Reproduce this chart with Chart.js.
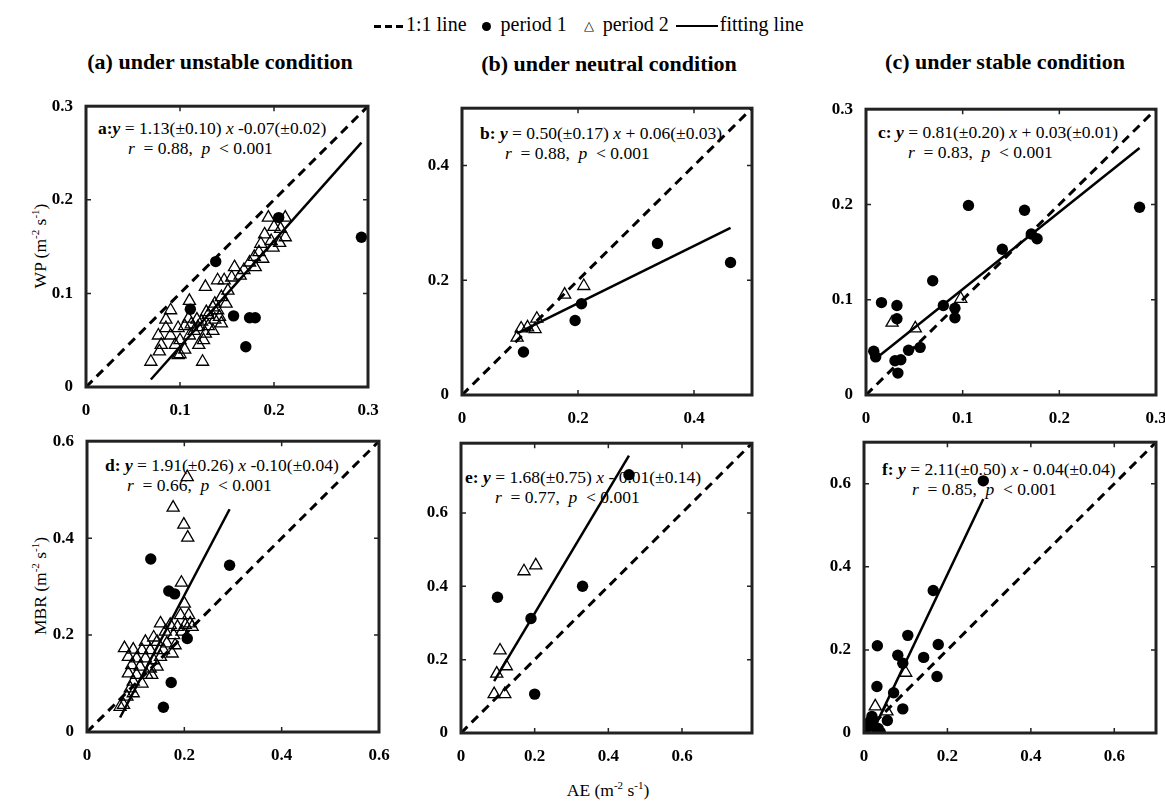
<!DOCTYPE html>
<html lang="en">

<head>
    <meta charset="UTF-8">
    <title>WP and MBR against AE</title>
    <script src="https://cdn.jsdelivr.net/npm/chart.js"></script>
    <style>
        body {
            margin: 0;
            width: 1165px;
            height: 803px;
            position: relative;
            overflow: hidden;
            background: #fff;
            color: #000;
            font-family: "Liberation Serif", "Times New Roman", serif;
        }

        canvas {
            position: absolute;
            z-index: 2;
        }

        .title {
            position: absolute;
            font-size: 22px;
            font-weight: bold;
            white-space: nowrap;
            transform: translate(-50%, -50%);
        }

        .eq {
            position: absolute;
            z-index: 1;
            font-size: 17.5px;
            line-height: 20px;
            white-space: nowrap;
        }

        .axis-title {
            position: absolute;
            font-size: 17.5px;
            white-space: nowrap;
            transform: translate(-50%, -50%);
        }

        .axis-title.rot {
            transform: translate(-50%, -50%) rotate(-90deg);
        }

        sup {
            font-size: 11px;
            vertical-align: 7px;
            line-height: 0;
        }

        /* legend row */
        #legend {
            position: absolute;
            left: 374px;
            top: 12px;
            font-size: 20px;
            line-height: 24px;
            white-space: nowrap;
        }

        #legend span {
            display: inline-block;
            vertical-align: middle;
        }

        .lg-dash {
            width: 30px;
            height: 3px;
            background: repeating-linear-gradient(90deg, #000 0 7px, transparent 7px 11px);
            margin-right: 2px;
        }

        .lg-dot {
            width: 9px;
            height: 9px;
            border-radius: 50%;
            background: #000;
            margin: 0 10px 0 10px;
        }

        .lg-tri {
            font-size: 13px;
            margin: 0 9px 0 12px;
        }

        .lg-line {
            width: 42px;
            height: 2px;
            background: #000;
            margin: 0 2px 0 2px;
        }
    </style>
</head>

<body>
    <div id="legend">
        <span class="lg-dash"></span>1:1 line
        <span class="lg-dot"></span>period 1
        <span class="lg-tri">△</span>period 2
        <span class="lg-line"></span>fitting line
    </div>

    <div class="title" style="left:220px; top:62px">(a) under unstable condition</div>
    <div class="title" style="left:609px; top:64px">(b) under neutral condition</div>
    <div class="title" style="left:1005px; top:62px">(c) under stable condition</div>

    <div class="axis-title rot" style="left:40px; top:246px">WP (m<sup>-2</sup> s<sup>-1</sup>)</div>
    <div class="axis-title rot" style="left:40px; top:586px">MBR (m<sup>-2</sup> s<sup>-1</sup>)</div>
    <div class="axis-title" style="left:608px; top:790px">AE (m<sup>-2</sup> s<sup>-1</sup>)</div>

    <!-- regression text for each panel -->
    <div class="eq" style="left:98px; top:118px">
        <b>a:<i>y</i></b> = 1.13(±0.10) <i>x</i> -0.07(±0.02)<br>
        <span style="padding-left:30px"><i>r</i>&nbsp; = 0.88,&nbsp; <i>p</i>&nbsp; &lt; 0.001</span>
    </div>
    <div class="eq" style="left:480px; top:123px">
        <b>b: <i>y</i></b> = 0.50(±0.17) <i>x</i> + 0.06(±0.03)<br>
        <span style="padding-left:25px"><i>r</i>&nbsp; = 0.88,&nbsp; <i>p</i>&nbsp; &lt; 0.001</span>
    </div>
    <div class="eq" style="left:878px; top:122px">
        <b>c: <i>y</i></b> = 0.81(±0.20) <i>x</i> + 0.03(±0.01)<br>
        <span style="padding-left:30px"><i>r</i>&nbsp; = 0.83,&nbsp; <i>p</i>&nbsp; &lt; 0.001</span>
    </div>
    <div class="eq" style="left:105px; top:455px">
        <b>d: <i>y</i></b> = 1.91(±0.26) <i>x</i> -0.10(±0.04)<br>
        <span style="padding-left:22px"><i>r</i>&nbsp; = 0.66,&nbsp; <i>p</i>&nbsp; &lt; 0.001</span>
    </div>
    <div class="eq" style="left:465px; top:467px">
        <b>e: <i>y</i></b> = 1.68(±0.75) <i>x</i> - 0.01(±0.14)<br>
        <span style="padding-left:30px"><i>r</i>&nbsp; = 0.77,&nbsp; <i>p</i>&nbsp; &lt; 0.001</span>
    </div>
    <div class="eq" style="left:882px; top:459px">
        <b>f: <i>y</i></b> = 2.11(±0.50) <i>x</i> - 0.04(±0.04)<br>
        <span style="padding-left:30px"><i>r</i>&nbsp; = 0.85,&nbsp; <i>p</i>&nbsp; &lt; 0.001</span>
    </div>

    <script>
        // ---- data: [AE, WP or MBR] pairs ----
        const aPeriod1 = [[0.205, 0.181], [0.293, 0.160], [0.138, 0.134], [0.111, 0.083], [0.157, 0.076],
            [0.174, 0.074], [0.180, 0.074], [0.170, 0.043]];
        const aPeriod2 = [[0.194, 0.181], [0.212, 0.181], [0.200, 0.171], [0.207, 0.169], [0.212, 0.160],
            [0.190, 0.163], [0.197, 0.156], [0.206, 0.154], [0.186, 0.153], [0.199, 0.149], [0.184, 0.144],
            [0.179, 0.139], [0.188, 0.137], [0.174, 0.133], [0.180, 0.128], [0.158, 0.128], [0.168, 0.125],
            [0.164, 0.119], [0.147, 0.114], [0.155, 0.117], [0.127, 0.107], [0.151, 0.103], [0.144, 0.096],
            [0.137, 0.089], [0.149, 0.089], [0.110, 0.092], [0.140, 0.082], [0.130, 0.077], [0.137, 0.072],
            [0.144, 0.068], [0.090, 0.082], [0.085, 0.072], [0.109, 0.073], [0.098, 0.063], [0.085, 0.063],
            [0.077, 0.055], [0.119, 0.064], [0.127, 0.057], [0.069, 0.027], [0.098, 0.034], [0.124, 0.027],
            [0.095, 0.045], [0.100, 0.050], [0.105, 0.040], [0.110, 0.055], [0.115, 0.060], [0.120, 0.045],
            [0.125, 0.050], [0.130, 0.065], [0.135, 0.060], [0.100, 0.035], [0.090, 0.055], [0.080, 0.045],
            [0.078, 0.038], [0.112, 0.067], [0.118, 0.072], [0.123, 0.070], [0.105, 0.065], [0.128, 0.080],
            [0.135, 0.085], [0.142, 0.075], [0.140, 0.114]];

        const bPeriod1 = [[0.337, 0.264], [0.463, 0.231], [0.206, 0.159], [0.195, 0.130], [0.106, 0.075]];
        const bPeriod2 = [[0.210, 0.190], [0.177, 0.175], [0.129, 0.133], [0.126, 0.115], [0.113, 0.118],
            [0.102, 0.116], [0.095, 0.100]];

        const cPeriod1 = [[0.106, 0.199], [0.164, 0.194], [0.283, 0.197], [0.171, 0.169], [0.177, 0.164],
            [0.141, 0.153], [0.069, 0.120], [0.080, 0.094], [0.016, 0.097], [0.032, 0.094], [0.032, 0.080],
            [0.092, 0.091], [0.092, 0.081], [0.008, 0.046], [0.044, 0.047], [0.056, 0.050], [0.010, 0.040],
            [0.030, 0.036], [0.036, 0.037], [0.033, 0.023]];
        const cPeriod2 = [[0.027, 0.076], [0.051, 0.070], [0.098, 0.101]];

        const dPeriod1 = [[0.131, 0.357], [0.293, 0.344], [0.168, 0.291], [0.180, 0.285], [0.206, 0.193],
            [0.173, 0.102], [0.157, 0.051]];
        const dPeriod2 = [[0.206, 0.526], [0.177, 0.463], [0.199, 0.428], [0.207, 0.401], [0.194, 0.308],
            [0.200, 0.265], [0.192, 0.241], [0.209, 0.241], [0.212, 0.224], [0.202, 0.221], [0.186, 0.217],
            [0.171, 0.221], [0.151, 0.224], [0.161, 0.207], [0.178, 0.200], [0.195, 0.207], [0.216, 0.217],
            [0.137, 0.195], [0.120, 0.186], [0.144, 0.186], [0.164, 0.183], [0.181, 0.179], [0.077, 0.173],
            [0.095, 0.170], [0.113, 0.169], [0.130, 0.169], [0.157, 0.169], [0.175, 0.162], [0.085, 0.155],
            [0.102, 0.152], [0.120, 0.152], [0.137, 0.148], [0.151, 0.155], [0.092, 0.138], [0.109, 0.135],
            [0.130, 0.131], [0.144, 0.135], [0.085, 0.121], [0.102, 0.118], [0.123, 0.118], [0.133, 0.118],
            [0.095, 0.104], [0.113, 0.100], [0.089, 0.090], [0.082, 0.073], [0.075, 0.056], [0.068, 0.052],
            [0.095, 0.080]];

        const ePeriod1 = [[0.456, 0.704], [0.330, 0.400], [0.099, 0.370], [0.190, 0.312], [0.200, 0.106]];
        const ePeriod2 = [[0.171, 0.441], [0.203, 0.457], [0.106, 0.225], [0.123, 0.182], [0.097, 0.162],
            [0.090, 0.106], [0.119, 0.106]];

        const fPeriod1 = [[0.286, 0.607], [0.166, 0.343], [0.105, 0.235], [0.178, 0.213], [0.032, 0.210],
            [0.081, 0.187], [0.143, 0.182], [0.093, 0.168], [0.175, 0.136], [0.031, 0.112], [0.071, 0.097],
            [0.093, 0.058], [0.056, 0.030], [0.014, 0.027], [0.010, 0.015], [0.034, 0.011], [0.039, 0.002],
            [0.022, 0.031], [0.006, 0.020], [0.019, 0.040]];
        const fPeriod2 = [[0.100, 0.145], [0.027, 0.064], [0.055, 0.052]];

        // fitted regression: y = slope * x + intercept (panels a-f)
        const fitSlope = [1.13, 0.50, 0.81, 1.91, 1.68, 2.11];
        const fitIntercept = [-0.07, 0.06, 0.03, -0.10, -0.01, -0.04];

        // axis ticks and upper limits (same on x and y)
        const aTicks = [0, 0.1, 0.2, 0.3];
        const bTicks = [0, 0.2, 0.4];
        const cTicks = [0, 0.1, 0.2, 0.3];
        const dTicks = [0, 0.2, 0.4, 0.6];
        const eTicks = [0, 0.2, 0.4, 0.6];
        const fTicks = [0, 0.2, 0.4, 0.6];
        const axisMax = [0.3, 0.5, 0.3, 0.6, 0.79, 0.7];

        // plot area of each panel on the page
        const panels = [
            { left: 86, top: 105, w: 282, h: 282, ticks: aTicks, p1: aPeriod1, p2: aPeriod2 },
            { left: 462, top: 107, w: 290, h: 288, ticks: bTicks, p1: bPeriod1, p2: bPeriod2 },
            { left: 866, top: 108, w: 290, h: 287, ticks: cTicks, p1: cPeriod1, p2: cPeriod2 },
            { left: 87, top: 440, w: 292, h: 292, ticks: dTicks, p1: dPeriod1, p2: dPeriod2 },
            { left: 461, top: 442, w: 291, h: 291, ticks: eTicks, p1: ePeriod1, p2: ePeriod2 },
            { left: 864, top: 441, w: 292, h: 292, ticks: fTicks, p1: fPeriod1, p2: fPeriod2 }
        ];

        const PAD_L = 50, PAD_T = 14, PAD_R = 20, PAD_B = 30;
        const tickFont = { family: "'Liberation Serif', serif", size: 17, weight: 'bold' };

        // box around the plot area with inward ticks on all four sides
        const boxPlugin = {
            id: 'box',
            afterDraw(chart) {
                const { ctx, chartArea: a, scales: { x, y } } = chart;
                ctx.save();
                ctx.strokeStyle = '#222';
                ctx.lineWidth = 1.5;
                ctx.beginPath();
                x.ticks.forEach(t => {
                    const px = x.getPixelForValue(t.value);
                    ctx.moveTo(px, a.bottom); ctx.lineTo(px, a.bottom - 5);
                    ctx.moveTo(px, a.top); ctx.lineTo(px, a.top + 5);
                });
                y.ticks.forEach(t => {
                    const py = y.getPixelForValue(t.value);
                    ctx.moveTo(a.left, py); ctx.lineTo(a.left + 5, py);
                    ctx.moveTo(a.right, py); ctx.lineTo(a.right - 5, py);
                });
                ctx.stroke();
                ctx.lineWidth = 3;
                ctx.strokeRect(a.left, a.top, a.right - a.left, a.bottom - a.top);
                ctx.restore();
            }
        };

        const toXY = arr => arr.map(p => ({ x: p[0], y: p[1] }));

        panels.forEach((p, i) => {
            const canvas = document.createElement('canvas');
            canvas.width = p.w + PAD_L + PAD_R;
            canvas.height = p.h + PAD_T + PAD_B;
            canvas.style.left = (p.left - PAD_L) + 'px';
            canvas.style.top = (p.top - PAD_T) + 'px';
            document.body.appendChild(canvas);

            const max = axisMax[i];
            const xs = p.p1.concat(p.p2).map(d => d[0]);
            const x0 = Math.min(...xs), x1 = Math.max(...xs);
            const fit = [x0, x1].map(v => ({ x: v, y: fitSlope[i] * v + fitIntercept[i] }));

            const scaleOpts = (afterFit) => ({
                type: 'linear',
                min: 0,
                max: max,
                afterFit: afterFit,
                afterBuildTicks: s => { s.ticks = p.ticks.map(v => ({ value: v })); },
                grid: { display: false },
                border: { display: false },
                ticks: {
                    color: '#000',
                    font: tickFont,
                    padding: 5,
                    maxRotation: 0,
                    autoSkip: false,
                    callback: v => String(+v.toFixed(1))
                }
            });

            new Chart(canvas, {
                type: 'scatter',
                data: {
                    datasets: [
                        {
                            label: 'period 1',
                            data: toXY(p.p1),
                            pointStyle: 'circle',
                            pointRadius: 5.7,
                            backgroundColor: '#000',
                            borderWidth: 0
                        },
                        {
                            label: 'period 2',
                            data: toXY(p.p2),
                            pointStyle: 'triangle',
                            pointRadius: 7,
                            backgroundColor: 'rgba(0,0,0,0)',
                            borderColor: '#000',
                            borderWidth: 1.3
                        },
                        {
                            label: 'fitting line',
                            data: fit,
                            showLine: true,
                            borderColor: '#000',
                            borderWidth: 2.5,
                            pointRadius: 0
                        },
                        {
                            label: '1:1 line',
                            data: [{ x: 0, y: 0 }, { x: max, y: max }],
                            showLine: true,
                            borderColor: '#000',
                            borderWidth: 3,
                            borderDash: [9, 6],
                            pointRadius: 0
                        }
                    ]
                },
                options: {
                    responsive: false,
                    animation: false,
                    devicePixelRatio: 1,
                    layout: { padding: { left: 0, top: PAD_T, right: PAD_R, bottom: 0 } },
                    plugins: { legend: { display: false }, tooltip: { enabled: false } },
                    scales: {
                        x: scaleOpts(s => { s.height = PAD_B; }),
                        y: scaleOpts(s => { s.width = PAD_L; })
                    }
                },
                plugins: [boxPlugin]
            });
        });
    </script>
</body>

</html>
